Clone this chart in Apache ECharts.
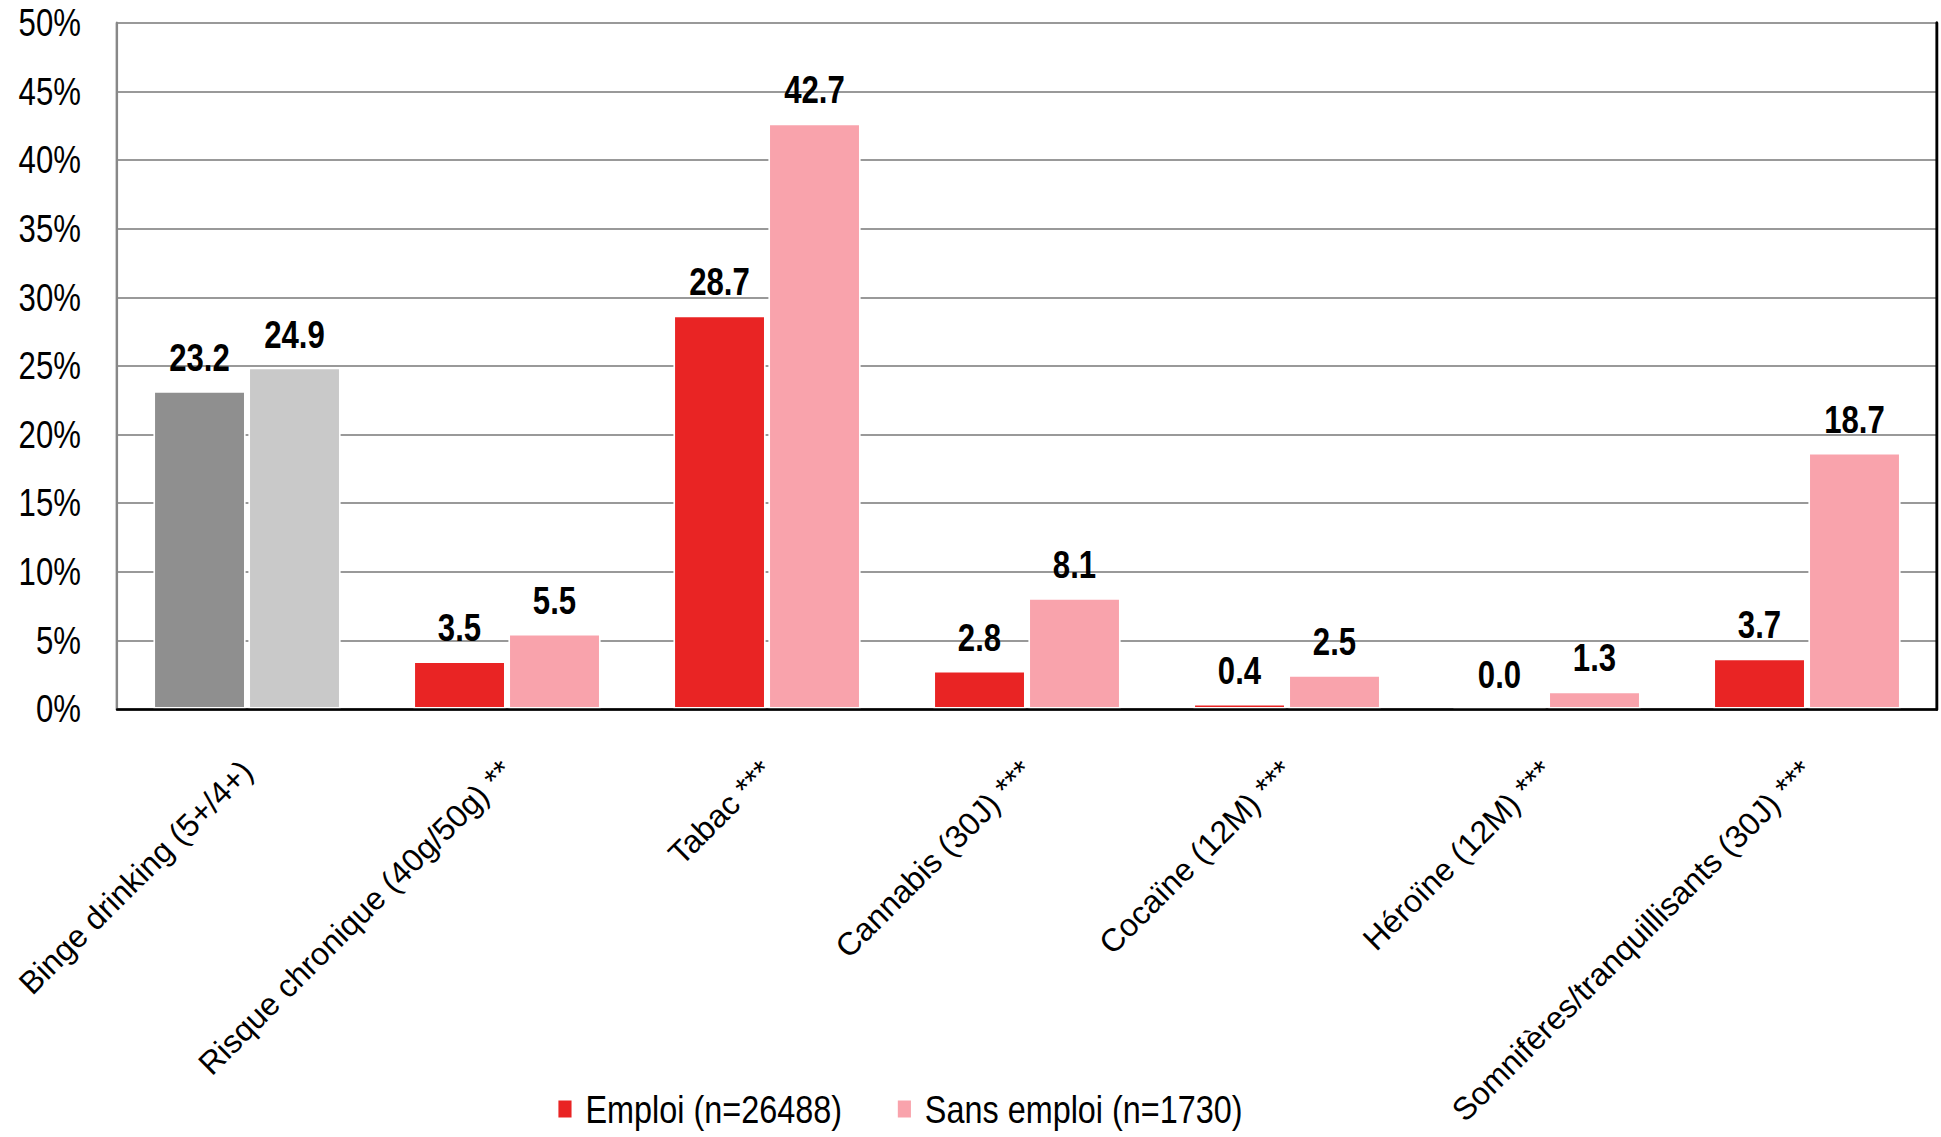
<!DOCTYPE html>
<html>
<head>
<meta charset="utf-8">
<script src="https://cdn.jsdelivr.net/npm/echarts@6/dist/echarts.min.js"></script>
<style>
html,body{margin:0;padding:0;background:#fff;overflow:hidden;width:1941px;height:1137px;position:relative;}
/* the reference uses a narrow (Arial Narrow-like) face; emulate it with a horizontal squeeze */
#chart{position:absolute;left:0;top:0;width:2367px;height:1137px;transform:scaleX(0.82);transform-origin:0 0;}
/* rotated category labels are drawn unsqueezed so their glyphs stay upright */
#labels{position:absolute;left:0;top:0;width:1941px;height:1137px;pointer-events:none;}
</style>
</head>
<body>
<div id="chart"></div>
<div id="labels"></div>
<script>
const categories = [
  'Binge drinking (5+/4+)',
  'Risque chronique (40g/50g) **',
  'Tabac ***',
  'Cannabis (30J) ***',
  'Cocaïne (12M) ***',
  'Héroïne (12M) ***',
  'Somnifères/tranquillisants (30J) ***'
];
const emploi = [23.2, 3.5, 28.7, 2.8, 0.4, 0.0, 3.7];
const sansEmploi = [24.9, 5.5, 42.7, 8.1, 2.5, 1.3, 18.7];
const seriesNames = ['Emploi (n=26488)', 'Sans emploi (n=1730)'];
const yTicks = [0, 5, 10, 15, 20, 25, 30, 35, 40, 45, 50];

const FONT = '"Liberation Sans", Arial, sans-serif';
const RED = '#e92424', PINK = '#f9a3ac', DGRAY = '#8f8f8f', LGRAY = '#c9c9c9';

function items(vals, mainColor, firstColor) {
  return vals.map((v, i) => ({
    value: v,
    itemStyle: { color: i === 0 ? firstColor : mainColor }
  }));
}

const labelCfg = {
  show: true,
  position: 'top',
  distance: 14,
  fontFamily: FONT,
  fontWeight: 'bold',
  fontSize: 38,
  color: '#000',
  formatter: p => Number(p.value).toFixed(1)
};

const chart = echarts.init(document.getElementById('chart'), null, { renderer: 'svg' });
chart.setOption({
  animation: false,
  backgroundColor: '#fff',
  grid: { left: 142.7, right: 4.8, top: 23, bottom: 1137 - 709, containLabel: false, outerBoundsMode: 'none' },
  legend: {
    left: 679,
    top: 1089,
    itemWidth: 18,
    itemHeight: 19,
    itemGap: 66,
    icon: 'rect',
    padding: 0,
    textStyle: { fontFamily: FONT, fontSize: 39.5, lineHeight: 40, color: '#000', padding: [0, 0, 0, 11] },
    data: seriesNames
  },
  xAxis: [{
    type: 'category',
    data: categories,
    axisLine: { show: true, lineStyle: { color: '#888', width: 3 } },
    axisTick: { show: false },
    axisLabel: { show: false },
    z: 2
  }, {
    type: 'category',
    position: 'top',
    data: categories,
    axisLine: { show: true, lineStyle: { color: '#000', width: 2.5 } },
    axisTick: { show: false },
    axisLabel: { show: false },
    splitLine: { show: false },
    z: 3
  }],
  yAxis: [{
    type: 'value',
    min: 0,
    max: 50,
    interval: 5,
    axisLine: { show: true, lineStyle: { color: '#888', width: 3 } },
    axisTick: { show: false },
    splitLine: { show: true, lineStyle: { color: '#999', width: 2 } },
    axisLabel: {
      margin: 44,
      fontFamily: FONT,
      fontSize: 38,
      color: '#000',
      formatter: v => yTicks.includes(v) ? v + '%' : ''
    },
    z: 2
  }, {
    type: 'value',
    position: 'right',
    min: 0,
    max: 50,
    interval: 5,
    axisLine: { show: true, lineStyle: { color: '#000', width: 3.5 } },
    axisTick: { show: false },
    axisLabel: { show: false },
    splitLine: { show: false },
    z: 3
  }],
  series: [{
    name: seriesNames[0],
    type: 'bar',
    data: items(emploi, RED, DGRAY),
    itemStyle: { color: RED, borderColor: '#fff', borderWidth: 2 },
    barCategoryGap: '28%',
    barGap: '3%',
    label: labelCfg,
    z: 2
  }, {
    name: seriesNames[1],
    type: 'bar',
    data: items(sansEmploi, PINK, LGRAY),
    itemStyle: { color: PINK, borderColor: '#fff', borderWidth: 2 },
    barCategoryGap: '28%',
    barGap: '3%',
    label: labelCfg,
    z: 2
  }]
});

/* category axis labels, on the same (visual) grid extent */
const labelsChart = echarts.init(document.getElementById('labels'), null, { renderer: 'svg' });
labelsChart.setOption({
  animation: false,
  backgroundColor: 'transparent',
  grid: { left: 117, right: 4, top: 23, bottom: 1137 - 709, containLabel: false, outerBoundsMode: 'none' },
  xAxis: {
    type: 'category',
    data: categories,
    axisLine: { show: false },
    axisTick: { show: false },
    splitLine: { show: false },
    axisLabel: {
      interval: 0,
      rotate: 45,
      margin: 57,
      fontFamily: FONT,
      fontSize: 32,
      color: '#000'
    }
  },
  yAxis: {
    type: 'value',
    min: 0,
    max: 50,
    interval: 5,
    show: false
  },
  series: []
});
</script>
</body>
</html>
